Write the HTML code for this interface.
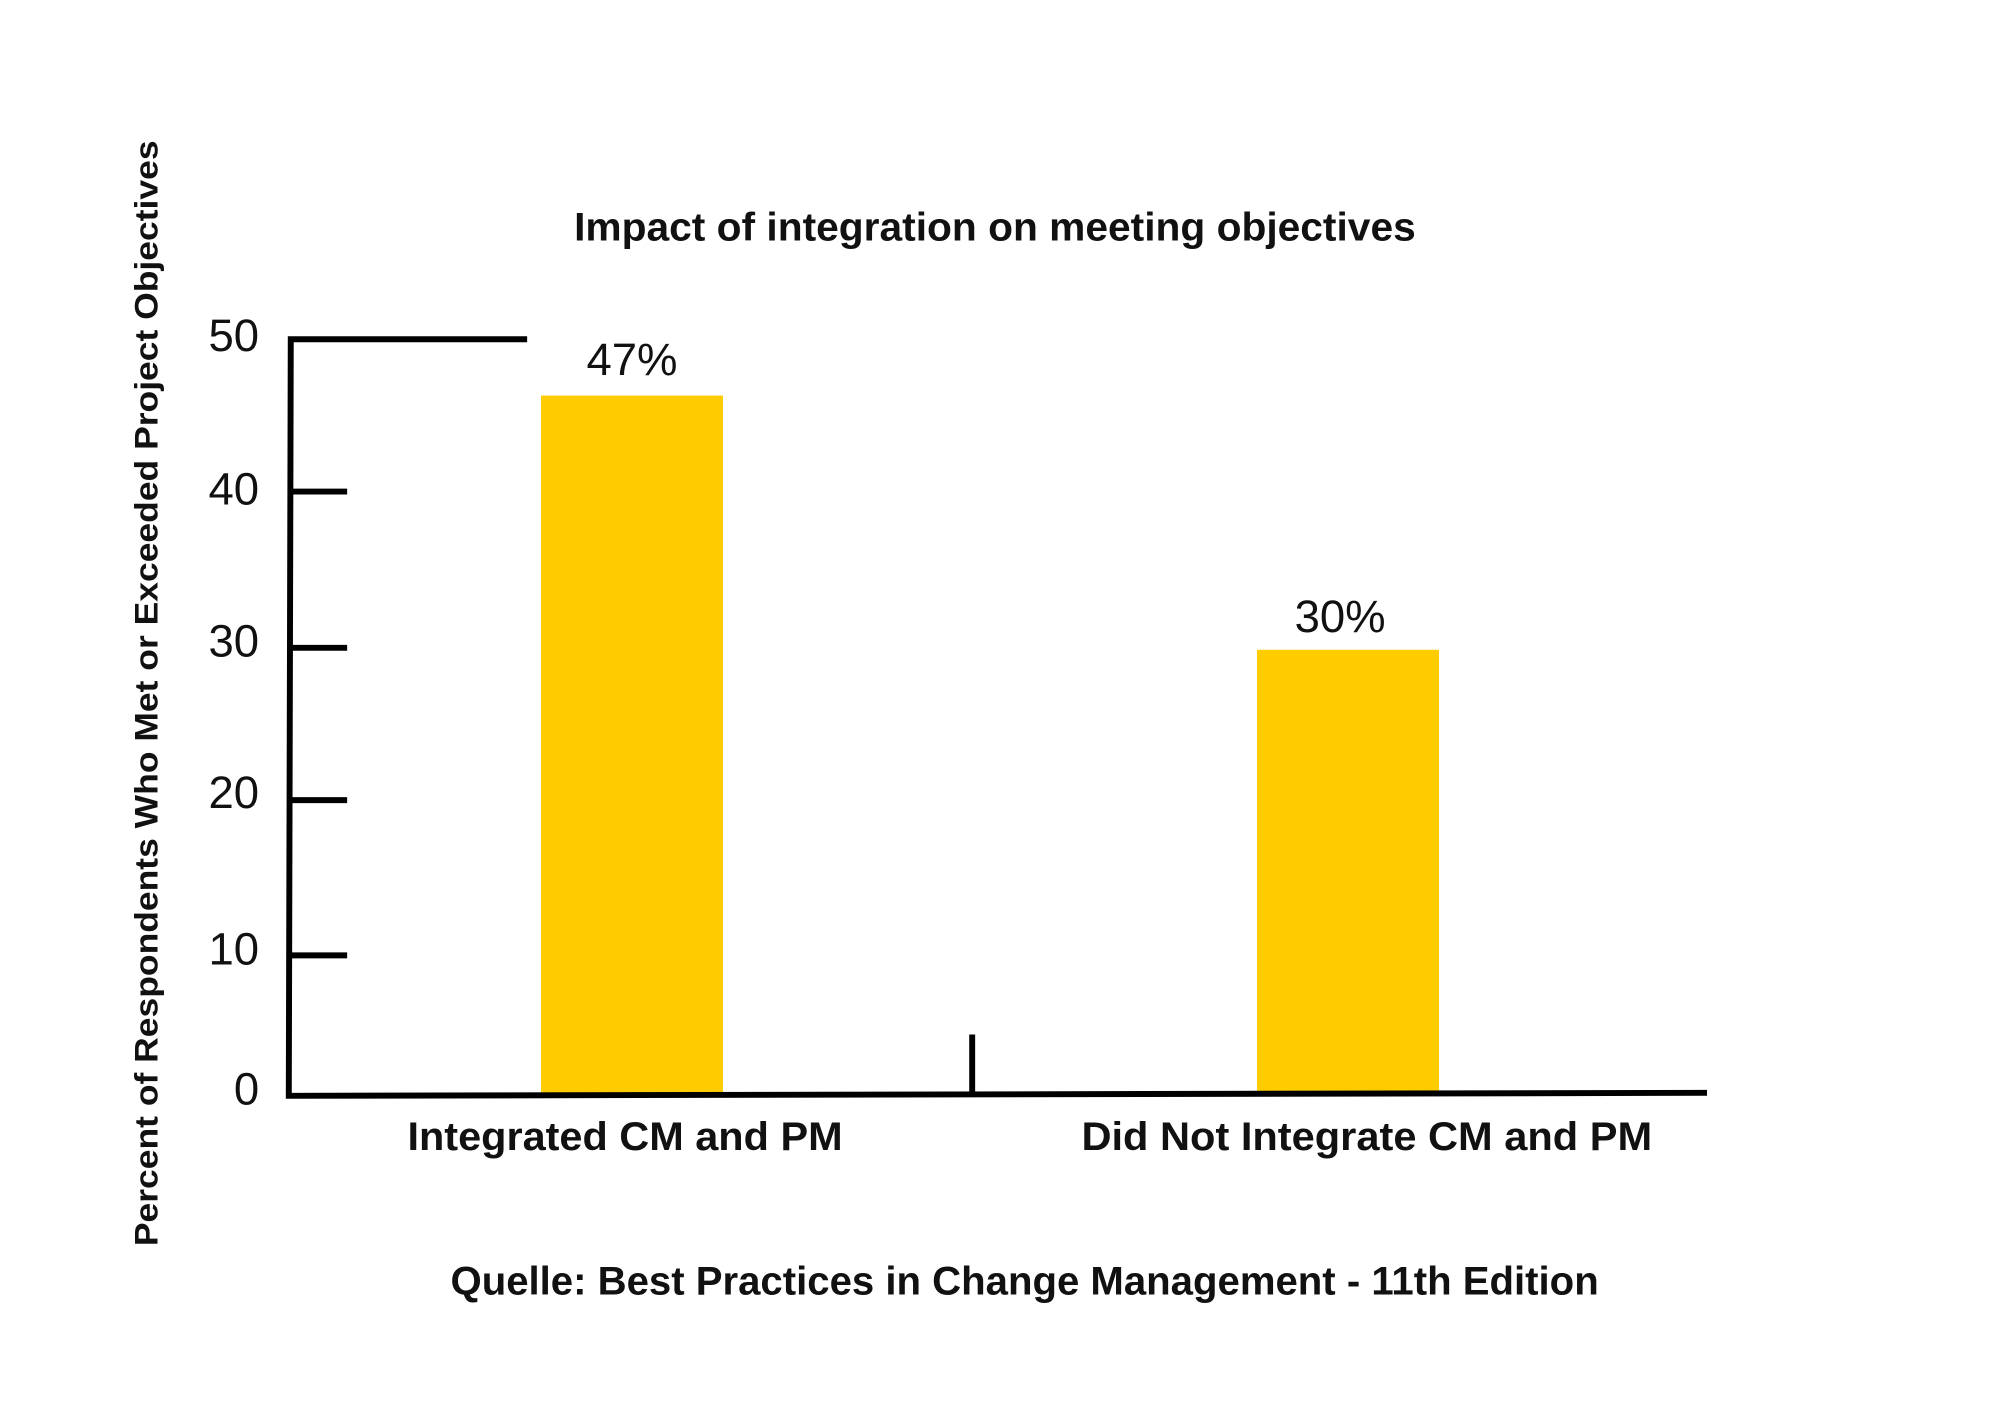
<!DOCTYPE html>
<html><head><meta charset="utf-8"><style>
html,body{margin:0;padding:0;background:#fff;}
</style></head><body>
<svg width="2000" height="1414" xmlns="http://www.w3.org/2000/svg" font-family="'Liberation Sans', 'DejaVu Sans', sans-serif">
<rect width="2000" height="1414" fill="#fff"/>
<g transform="scale(0.989)">
<rect x="547" y="400" width="184" height="706" fill="#FFCC00"/>
<rect x="1271" y="657" width="184" height="447" fill="#FFCC00"/>
<g stroke="#000" stroke-width="6" fill="none">
<polyline points="533,343 294,343 292,1108 1726,1105"/>
<line x1="294" y1="497" x2="351" y2="497"/>
<line x1="294" y1="655" x2="351" y2="655"/>
<line x1="294" y1="809" x2="351" y2="809"/>
<line x1="294" y1="966" x2="351" y2="966"/>
<line x1="983" y1="1046" x2="983" y2="1107"/>
</g>
<g font-size="46" text-anchor="end" fill="#111">
<text x="262" y="355">50</text>
<text x="262" y="510">40</text>
<text x="262" y="664">30</text>
<text x="262" y="817">20</text>
<text x="262" y="975">10</text>
<text x="262" y="1117">0</text>
</g>
<g font-size="46" text-anchor="middle" fill="#111">
<text x="639" y="379">47%</text>
<text x="1355" y="639">30%</text>
</g>
<text x="1006" y="243" font-size="40" font-weight="bold" text-anchor="middle" fill="#111" textLength="851" lengthAdjust="spacingAndGlyphs">Impact of integration on meeting objectives</text>
<g font-size="40" font-weight="bold" text-anchor="middle" fill="#111">
<text x="632" y="1163" textLength="440" lengthAdjust="spacingAndGlyphs">Integrated CM and PM</text>
<text x="1382" y="1163" textLength="577" lengthAdjust="spacingAndGlyphs">Did Not Integrate CM and PM</text>
<text x="1036" y="1309" textLength="1161" lengthAdjust="spacingAndGlyphs">Quelle: Best Practices in Change Management - 11th Edition</text>
</g>
<text transform="translate(159,701) rotate(-90)" font-size="33" font-weight="bold" text-anchor="middle" fill="#111" textLength="1118" lengthAdjust="spacingAndGlyphs">Percent of Respondents Who Met or Exceeded Project Objectives</text>
</g>
</svg>
</body></html>
